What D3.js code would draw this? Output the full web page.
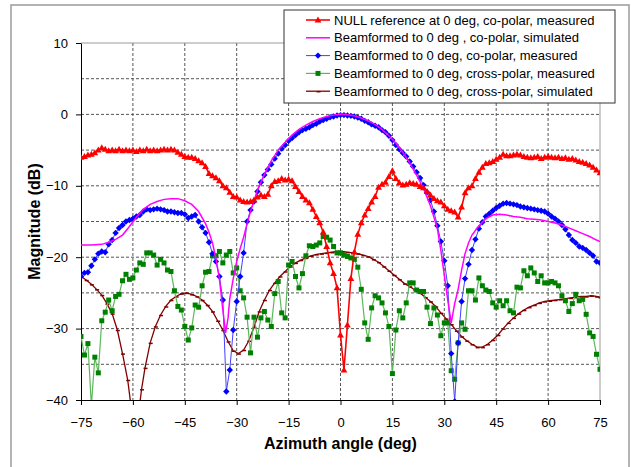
<!DOCTYPE html>
<html>
<head>
<meta charset="utf-8">
<script src="https://cdn.jsdelivr.net/npm/d3@7"></script>
<style>
    body { margin: 0; background: #fff; }
    svg { font-family: Arial, "Liberation Sans", sans-serif; }
    .grid line { stroke: #555; stroke-dasharray: 3,2; stroke-width: 1; }
    .axis path, .axis line { stroke: #000; }
    .axis text { font-size: 13px; fill: #000; }
</style>
</head>
<body>
<div id="chart"></div>
<script>
// angle (deg) / magnitude (dB) pairs
const nullRefMeasured = [
    [-75, -6.0], [-74, -5.9], [-73, -5.7], [-72, -5.6], [-71, -5.4], [-70, -5.0], [-69, -4.7], [-68, -4.9],
    [-67, -5.1], [-66, -5.0], [-65, -5.1], [-64, -4.9], [-63, -5.1], [-62, -5.0], [-61, -5.1], [-60, -5.0],
    [-59, -5.2], [-58, -5.0], [-57, -5.1], [-56, -4.9], [-55, -5.1], [-54, -5.0], [-53, -5.1], [-52, -5.0],
    [-51, -4.9], [-50, -5.0], [-49, -4.9], [-48, -5.0], [-47, -5.3], [-46, -5.6], [-45, -5.9], [-44, -6.0],
    [-43, -6.0], [-42, -6.2], [-41, -6.5], [-40, -6.8], [-39, -7.3], [-38, -8.3], [-37, -8.6], [-36, -8.9],
    [-35, -9.3], [-34, -10.0], [-33, -10.3], [-32, -10.9], [-31, -11.5], [-30, -11.6], [-29, -12.0], [-28, -12.2],
    [-27, -12.3], [-26, -12.2], [-25, -12.0], [-24, -11.6], [-23, -11.3], [-22, -11.5], [-21, -11.2], [-20, -10.0],
    [-19, -9.4], [-18, -9.3], [-17, -9.0], [-16, -9.2], [-15, -9.1], [-14, -9.3], [-13, -10.1], [-12, -10.8],
    [-11, -11.5], [-10, -12.0], [-9, -12.4], [-8, -13.3], [-7, -14.3], [-6, -15.2], [-5, -16.5], [-4, -18.5],
    [-3, -20.8], [-2, -22.3], [-1, -24.3], [0, -30.9], [1, -35.8], [2, -29.5], [3, -23.0], [4, -19.3],
    [5, -16.8], [6, -15.2], [7, -14.1], [8, -13.2], [9, -12.3], [10, -11.5], [11, -10.2], [12, -9.8],
    [13, -9.5], [14, -8.7], [15, -7.9], [16, -9.0], [17, -9.6], [18, -9.9], [19, -9.8], [20, -9.6],
    [21, -9.7], [22, -9.8], [23, -10.1], [24, -10.3], [25, -10.8], [26, -11.3], [27, -11.8], [28, -12.1],
    [29, -12.3], [30, -12.8], [31, -13.3], [32, -13.5], [33, -13.7], [34, -14.4], [35, -13.0], [36, -11.0],
    [37, -10.3], [38, -10.0], [39, -9.0], [40, -8.1], [41, -7.4], [42, -6.9], [43, -6.8], [44, -6.6],
    [45, -6.3], [46, -6.0], [47, -5.6], [48, -5.8], [49, -5.8], [50, -5.7], [51, -5.6], [52, -5.7],
    [53, -5.9], [54, -6.0], [55, -6.1], [56, -6.0], [57, -5.9], [58, -6.2], [59, -6.0], [60, -5.9],
    [61, -6.0], [62, -6.1], [63, -6.0], [64, -6.2], [65, -6.1], [66, -6.3], [67, -6.2], [68, -6.4],
    [69, -6.6], [70, -6.7], [71, -6.9], [72, -7.1], [73, -7.4], [74, -7.8], [75, -8.2]
];

const coPolarSimulated = [
    [-75, -18.3], [-72, -18.3], [-69, -18.2], [-67, -17.9], [-65, -17.5], [-63, -16.9], [-61, -15.7], [-59, -14.4],
    [-57, -13.3], [-55, -12.6], [-53, -12.2], [-51, -11.9], [-49, -11.8], [-47, -11.8], [-45, -12.1], [-43, -12.6],
    [-41, -13.6], [-39, -15.3], [-38, -16.5], [-37, -18.0], [-36, -20.2], [-35, -23.0], [-34, -27.4], [-33.2, -30.6],
    [-32.5, -28.5], [-32, -25.8], [-31, -23.0], [-30, -20.6], [-29, -18.8], [-28, -17.2], [-27, -15.3], [-26, -13.6],
    [-24, -10.6], [-22, -8.4], [-20, -6.5], [-18, -5.0], [-16, -3.9], [-14, -2.9], [-12, -2.1], [-10, -1.5],
    [-8, -1.0], [-6, -0.6], [-4, -0.3], [-2, -0.1], [0, 0.05], [2, -0.05], [4, -0.2], [6, -0.5],
    [8, -0.9], [10, -1.4], [12, -2.1], [14, -3.0], [16, -4.0], [18, -5.3], [20, -6.8], [22, -8.5],
    [24, -10.4], [26, -12.8], [28, -16.0], [29, -19.0], [30, -22.5], [31, -26.0], [32, -29.2], [33, -26.5],
    [34, -24.5], [35, -21.8], [36, -19.5], [37, -18.0], [38, -16.9], [40, -15.6], [42, -14.6], [44, -14.1],
    [46, -14.0], [48, -14.1], [50, -14.3], [52, -14.4], [54, -14.6], [56, -14.7], [58, -14.8], [60, -15.0],
    [62, -15.2], [64, -15.5], [66, -15.9], [68, -16.3], [70, -16.7], [72, -17.1], [74, -17.6], [75, -17.8]
];

const coPolarMeasured = [
    [-75, -22.7], [-74, -22.2], [-73, -22.1], [-72, -21.2], [-71, -20.3], [-70, -19.5], [-69, -19.2], [-68, -19.3],
    [-67, -18.2], [-66, -17.6], [-65, -16.6], [-64, -15.9], [-63, -15.5], [-62, -15.0], [-61, -14.8], [-60, -14.6],
    [-59, -14.3], [-58, -14.1], [-57, -13.6], [-56, -13.3], [-55, -13.4], [-54, -13.3], [-53, -13.2], [-52, -13.3],
    [-51, -13.4], [-50, -13.6], [-49, -13.6], [-48, -13.7], [-47, -13.8], [-46, -13.8], [-45, -14.0], [-44, -14.5],
    [-43, -14.3], [-42, -14.1], [-41, -15.0], [-40, -15.8], [-39, -16.6], [-38, -17.9], [-37, -19.5], [-36, -20.6],
    [-35, -22.7], [-34, -26.0], [-33, -38.8], [-32, -35.8], [-31, -30.2], [-30, -26.2], [-29, -22.7], [-28, -19.4],
    [-27, -15.0], [-26, -13.4], [-25, -12.2], [-24, -10.8], [-23, -9.5], [-22, -8.5], [-21, -7.7], [-20, -7.0],
    [-19, -6.2], [-18, -5.5], [-17, -4.8], [-16, -4.3], [-15, -3.7], [-14, -3.3], [-13, -2.9], [-12, -2.5],
    [-11, -2.2], [-10, -2.0], [-9, -1.8], [-8, -1.5], [-7, -1.3], [-6, -1.0], [-5, -0.8], [-4, -0.6],
    [-3, -0.4], [-2, -0.3], [-1, -0.15], [0, -0.1], [1, -0.1], [2, -0.15], [3, -0.2], [4, -0.3],
    [5, -0.45], [6, -0.6], [7, -0.9], [8, -1.1], [9, -1.4], [10, -1.6], [11, -1.8], [12, -2.2],
    [13, -2.5], [14, -3.0], [15, -3.6], [16, -4.3], [17, -4.9], [18, -5.4], [19, -5.9], [20, -6.6],
    [21, -7.3], [22, -8.1], [23, -8.9], [24, -9.9], [25, -10.9], [26, -12.0], [27, -13.6], [28, -15.6],
    [29, -17.8], [30, -20.5], [31, -24.0], [32, -33.5], [33, -40.2], [34, -32.0], [35, -26.2], [36, -23.0],
    [37, -21.0], [38, -19.0], [39, -17.5], [40, -16.0], [41, -15.1], [42, -14.3], [43, -13.9], [44, -13.5],
    [45, -13.1], [46, -12.8], [47, -12.5], [48, -12.4], [49, -12.5], [50, -12.6], [51, -12.7], [52, -12.9],
    [53, -13.0], [54, -13.1], [55, -13.2], [56, -13.3], [57, -13.4], [58, -13.5], [59, -13.6], [60, -13.9],
    [61, -14.3], [62, -14.6], [63, -15.0], [64, -15.5], [65, -16.1], [66, -16.9], [67, -17.6], [68, -18.0],
    [69, -18.5], [70, -18.7], [71, -19.0], [72, -19.4], [73, -19.8], [74, -20.6], [75, -20.8]
];

const crossPolarMeasured = [
    [-75, -31.1], [-74, -33.7], [-73, -32.1], [-72, -40.8], [-71, -34.0], [-70, -36.2], [-69, -28.9], [-68, -27.7],
    [-67, -26.0], [-66, -27.5], [-65, -25.5], [-64, -25.2], [-63, -23.3], [-62, -22.4], [-61, -23.1], [-60, -22.9],
    [-59, -21.8], [-58, -20.8], [-57, -21.0], [-56, -19.4], [-55, -19.4], [-54, -19.7], [-53, -21.1], [-52, -20.3],
    [-51, -20.8], [-50, -21.8], [-49, -22.0], [-48, -24.7], [-47, -26.9], [-46, -27.4], [-45, -29.7], [-44, -31.6],
    [-43, -29.9], [-42, -26.7], [-41, -27.0], [-40, -24.0], [-39, -22.1], [-38, -22.0], [-37, -19.8], [-36, -19.8],
    [-35, -19.2], [-34, -20.8], [-33, -19.7], [-32, -19.2], [-31, -22.2], [-30, -21.5], [-29, -24.7], [-28, -25.7],
    [-27, -28.4], [-26, -33.4], [-25, -28.4], [-24, -31.2], [-23, -28.5], [-22, -27.6], [-21, -28.8], [-20, -29.7],
    [-19, -25.1], [-18, -23.4], [-17, -27.8], [-16, -28.5], [-15, -21.1], [-14, -20.6], [-13, -22.7], [-12, -24.3],
    [-11, -22.3], [-10, -19.8], [-9, -18.4], [-8, -18.5], [-7, -18.3], [-6, -18.0], [-5, -17.1], [-4, -17.2],
    [-3, -17.6], [-2, -18.5], [-1, -19.4], [0, -19.4], [1, -19.7], [2, -19.9], [3, -20.1], [4, -20.3],
    [5, -21.4], [6, -24.5], [7, -29.2], [8, -31.5], [9, -27.1], [10, -25.4], [11, -25.7], [12, -26.4],
    [13, -27.8], [14, -29.7], [15, -36.3], [16, -30.2], [17, -27.5], [18, -28.5], [19, -26.4], [20, -23.6],
    [21, -23.6], [22, -24.6], [23, -24.8], [24, -24.8], [25, -27.0], [26, -29.3], [27, -27.1], [28, -28.1],
    [29, -31.0], [30, -29.2], [31, -29.2], [32, -35.9], [33, -37.1], [34, -32.0], [35, -29.2], [36, -30.1],
    [37, -24.7], [38, -24.7], [39, -26.0], [40, -22.9], [41, -24.0], [42, -24.6], [43, -24.8], [44, -26.4],
    [45, -27.0], [46, -26.1], [47, -26.8], [48, -26.1], [49, -27.5], [50, -27.8], [51, -24.2], [52, -24.3],
    [53, -21.9], [54, -22.6], [55, -21.5], [56, -22.2], [57, -23.4], [58, -22.6], [59, -23.6], [60, -23.6],
    [61, -23.4], [62, -23.6], [63, -24.0], [64, -25.4], [65, -26.1], [66, -27.6], [67, -26.5], [68, -25.2],
    [69, -26.1], [70, -25.9], [71, -28.0], [72, -30.6], [73, -31.1], [74, -33.6], [75, -35.7]
];

const crossPolarSimulated = [
    [-75, -22.7], [-73.5, -23.2], [-72, -23.8], [-70.5, -24.5], [-69, -25.3], [-67.5, -26.5], [-66, -27.9],
    [-64.5, -30.2], [-63, -33.5], [-61.5, -37.2], [-60.5, -41.0], [-58, -40.5], [-57.5, -38.5], [-56.5, -35.5],
    [-55, -32.0], [-53.5, -29.7], [-52, -28.1], [-50.5, -26.9], [-49, -26.0], [-47.5, -25.5], [-46, -25.1],
    [-44.5, -25.0], [-43, -25.2], [-41.5, -25.5], [-40, -26.0], [-38.5, -26.7], [-37, -27.6], [-35.5, -28.9],
    [-34, -30.2], [-32.5, -31.8], [-31, -33.1], [-29.5, -33.5], [-28, -33.0], [-26.5, -31.7], [-25, -29.8],
    [-23.5, -27.6], [-22, -26.0], [-20.5, -24.6], [-19, -23.6], [-17.5, -22.7], [-16, -22.0], [-14.5, -21.3],
    [-13, -20.8], [-11.5, -20.4], [-10, -20.1], [-8.5, -19.8], [-7, -19.6], [-5.5, -19.5], [-4, -19.4],
    [-2.5, -19.3], [-1, -19.2], [0.5, -19.2], [2, -19.3], [3.5, -19.4], [5, -19.5], [6.5, -19.7], [8, -19.9],
    [9.5, -20.3], [11, -20.7], [12.5, -21.3], [14, -21.9], [15.5, -22.5], [17, -23.1], [18.5, -23.7], [20, -24.1],
    [21.5, -24.6], [23, -25.0], [24.5, -25.6], [26, -26.2], [27.5, -26.9], [29, -27.8], [30.5, -28.6], [32, -29.4],
    [33.5, -30.3], [35, -31.1], [36.5, -31.7], [38, -32.2], [39.5, -32.6], [41, -32.6], [42.5, -32.2], [44, -31.6],
    [45.5, -30.9], [47, -30.0], [48.5, -29.2], [50, -28.5], [51.5, -27.9], [53, -27.4], [54.5, -27.0], [56, -26.7],
    [57.5, -26.4], [59, -26.2], [60.5, -26.1], [62, -26.0], [63.5, -25.9], [65, -25.8], [66.5, -25.7], [68, -25.6],
    [69.5, -25.5], [71, -25.5], [72.5, -25.4], [74, -25.5], [75, -25.6]
];

const legendLabels = [
    'NULL reference at 0 deg, co-polar, measured',
    'Beamformed to 0 deg , co-polar, simulated',
    'Beamformed to 0 deg, co-polar, measured',
    'Beamformed to 0 deg, cross-polar, measured',
    'Beamformed to 0 deg, cross-polar, simulated'
];

const xTicks = [-75, -60, -45, -30, -15, 0, 15, 30, 45, 60, 75];
const yTicks = [-40, -30, -20, -10, 0, 10];
const yGrid = [-35, -30, -25, -20, -15, -10, -5, 0, 5];
const xGrid = [-60, -45, -30, -15, 0, 15, 30, 45, 60];

// series styles, in legend order
const series = [
    { data: nullRefMeasured, line: '#ff0000', width: 1.6, marker: 'triangle', fill: '#ff0000' },
    { data: coPolarSimulated, line: '#ff00ff', width: 1.5, marker: null },
    { data: coPolarMeasured, line: '#4040ff', width: 1, marker: 'diamond', fill: '#0000ff' },
    { data: crossPolarMeasured, line: '#5cb85c', width: 1.2, marker: 'square', fill: '#008000' },
    { data: crossPolarSimulated, line: '#800000', width: 1.3, marker: 'dash', fill: '#800000' }
];

const width = 631, height = 467;
const plot = { left: 81, right: 600, top: 43, bottom: 400 };

var x = d3.scaleLinear().domain([-75, 75]).range([plot.left, plot.right]);
var y = d3.scaleLinear().domain([-40, 10]).range([plot.bottom, plot.top]);

var svg = d3.select('#chart').append('svg')
    .attr('width', width)
    .attr('height', height);

// outer chart frame
svg.append('rect')
    .attr('x', 11).attr('y', 5)
    .attr('width', 618).attr('height', 480)
    .attr('fill', '#fff')
    .attr('stroke', '#9a9a9a')
    .attr('stroke-width', 1.5);

svg.append('defs').append('clipPath').attr('id', 'plot-clip')
    .append('rect')
    .attr('x', plot.left).attr('y', plot.top)
    .attr('width', plot.right - plot.left).attr('height', plot.bottom - plot.top);

// dashed grid
var grid = svg.append('g').attr('class', 'grid');
grid.selectAll('.horizontal')
    .data(yGrid).enter().append('line')
    .attr('class', 'horizontal')
    .attr('x1', plot.left).attr('x2', plot.right)
    .attr('y1', (d) => { return y(d); })
    .attr('y2', (d) => { return y(d); });
grid.selectAll('.vertical')
    .data(xGrid).enter().append('line')
    .attr('class', 'vertical')
    .attr('x1', (d) => { return x(d); })
    .attr('x2', (d) => { return x(d); })
    .attr('y1', plot.top).attr('y2', plot.bottom);

// grey plot border at top and right
svg.append('path')
    .attr('d', 'M' + plot.left + ',' + plot.top + 'H' + plot.right + 'V' + plot.bottom)
    .attr('fill', 'none')
    .attr('stroke', '#9a9a9a');

// axes
svg.append('g').attr('class', 'axis')
    .attr('transform', 'translate(0,' + plot.bottom + ')')
    .call(d3.axisBottom(x).tickValues(xTicks).tickSize(5).tickPadding(13).tickSizeOuter(0));
svg.append('g').attr('class', 'axis')
    .attr('transform', 'translate(' + plot.left + ',0)')
    .call(d3.axisLeft(y).tickValues(yTicks).tickSize(5).tickPadding(8).tickSizeOuter(0));

svg.append('text')
    .attr('x', (plot.left + plot.right) / 2).attr('y', 449)
    .attr('text-anchor', 'middle')
    .style('font-size', '16px').style('font-weight', 'bold')
    .text('Azimuth angle (deg)');
svg.append('text')
    .attr('transform', 'translate(40,' + (plot.top + plot.bottom) / 2 + ') rotate(-90)')
    .attr('text-anchor', 'middle')
    .style('font-size', '16px').style('font-weight', 'bold')
    .text('Magnitude (dB)');

// draw one marker shape at the origin of g
function drawMarker (g, s) {
    if (s.marker === 'triangle') {
        g.append('path').attr('d', 'M0,-3.6L3.4,2.4L-3.4,2.4Z').attr('fill', s.fill);
    } else if (s.marker === 'diamond') {
        g.append('path').attr('d', 'M0,-3.2L3.2,0L0,3.2L-3.2,0Z').attr('fill', s.fill);
    } else if (s.marker === 'square') {
        g.append('rect').attr('x', -2.5).attr('y', -2.5).attr('width', 5).attr('height', 5).attr('fill', s.fill);
    } else if (s.marker === 'dash') {
        g.append('line').attr('x1', -1.5).attr('x2', 2.5).attr('y1', 0.5).attr('y2', 0.5)
            .attr('stroke', s.fill).attr('stroke-width', 1.5);
    }
}

var line = d3.line()
    .x((d) => { return x(d[0]); })
    .y((d) => { return y(d[1]); });

var plotArea = svg.append('g').attr('clip-path', 'url(#plot-clip)');

// draw in reverse legend order so the red reference sits on top
series.slice().reverse().forEach((s) => {
    plotArea.append('path')
        .datum(s.data)
        .attr('fill', 'none')
        .attr('stroke', s.line)
        .attr('stroke-width', s.width)
        .attr('d', line);

    if (!s.marker) { return; }
    plotArea.append('g').selectAll('g')
        .data(s.data).enter().append('g')
        .attr('transform', (d) => { return 'translate(' + x(d[0]) + ',' + y(d[1]) + ')'; })
        .each(function () { drawMarker(d3.select(this), s); });
});

// legend box
var legend = svg.append('g').attr('transform', 'translate(284,10)');
legend.append('rect')
    .attr('width', 331).attr('height', 93)
    .attr('fill', '#fff')
    .attr('stroke', '#333');

var rows = legend.selectAll('.row')
    .data(series).enter().append('g')
    .attr('class', 'row')
    .attr('transform', (d, i) => { return 'translate(0,' + (10 + i * 17.8) + ')'; });
rows.append('line')
    .attr('x1', 22).attr('x2', 46)
    .attr('stroke', (d) => { return d.line; })
    .attr('stroke-width', (d) => { return d.width; });
rows.append('g')
    .attr('transform', 'translate(34,0)')
    .each(function (d) { drawMarker(d3.select(this), d); });
rows.append('text')
    .attr('x', 50).attr('y', 0).attr('dy', '0.35em')
    .style('font-size', '13px')
    .text((d, i) => { return legendLabels[i]; });
</script>
</body>
</html>
